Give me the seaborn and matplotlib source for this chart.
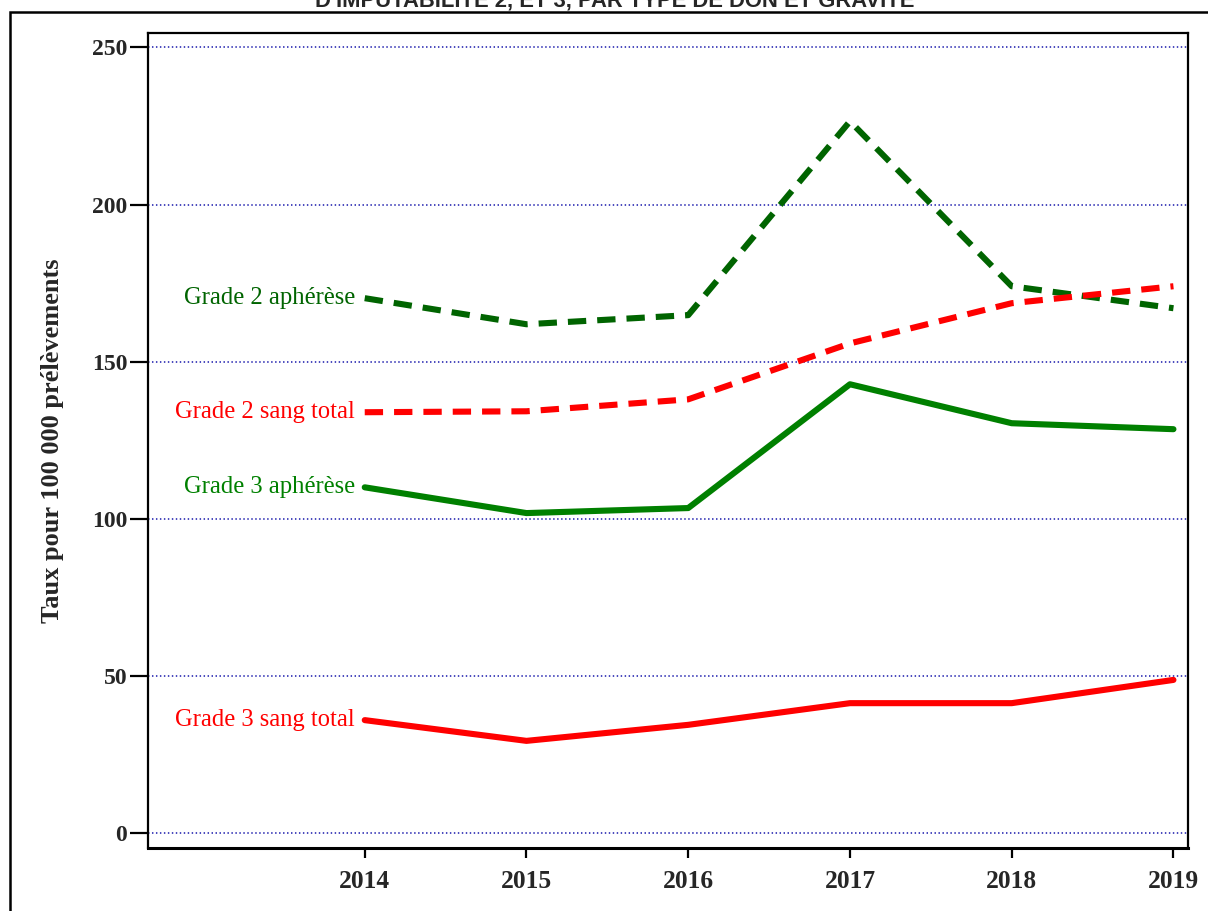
import matplotlib
matplotlib.use("Agg")
import matplotlib.pyplot as plt
from matplotlib.patches import Rectangle
import seaborn as sns
import pandas as pd

years = [2014, 2015, 2016, 2017, 2018, 2019]
grade2_apherese = [170.2, 161.9, 164.8, 226.5, 174.0, 167.0]
grade2_sang_total = [133.9, 134.2, 138.0, 155.8, 168.6, 174.0]
grade3_apherese = [110.0, 101.8, 103.4, 142.8, 130.4, 128.5]
grade3_sang_total = [35.9, 29.3, 34.4, 41.3, 41.3, 48.7]
series_labels = ["Grade 2 aphérèse", "Grade 2 sang total", "Grade 3 aphérèse", "Grade 3 sang total"]
y_ticks = [0, 50, 100, 150, 200, 250]

sns.set_style("white")
plt.rcParams["font.family"] = ["Liberation Serif", "DejaVu Serif"]

fig = plt.figure(figsize=(12.08, 9.11), dpi=100)
ax = fig.add_axes([148 / 1208, 1 - 848 / 911, (1188 - 148) / 1208, (848 - 33) / 911])

styles = [
    (grade2_apherese, "#006400", (0, (3.0, 1.8))),
    (grade2_sang_total, "#ff0000", (0, (3.0, 1.8))),
    (grade3_apherese, "#008000", "-"),
    (grade3_sang_total, "#ff0000", "-"),
]

for (vals, color, ls), label in zip(styles, series_labels):
    df = pd.DataFrame({"year": years, "rate": vals})
    sns.lineplot(data=df, x="year", y="rate", ax=ax, color=color,
                 linestyle=ls, linewidth=4.4, zorder=3)
    ax.annotate(label, xy=(years[0], vals[0]), xytext=(-7, 0),
                textcoords="offset points", ha="right", va="center",
                color=color, fontsize=17.7, annotation_clip=False)

ax.set_xlim(2012.66, 2019.09)
ax.set_ylim(-4.8, 254.6)
ax.set_xticks(years)
ax.set_xticklabels([str(y) for y in years])
ax.set_yticks(y_ticks)
ax.set_yticklabels([str(t) for t in y_ticks])
ax.set_xlabel("")
ax.set_ylabel("Taux pour 100 000 prélèvements", fontsize=19, fontweight="bold", labelpad=20)

for t in y_ticks:
    ax.axhline(t, color="#3a3ab8", linewidth=1.3, linestyle=(0, (0.8, 1.4)), zorder=1)

ax.tick_params(axis="y", direction="out", length=13, width=1.6, color="black",
               left=True, labelsize=17, pad=2)
ax.tick_params(axis="x", direction="out", length=7, width=1.6, color="black",
               bottom=True, labelsize=18.4, pad=9)
for lab in ax.get_xticklabels() + ax.get_yticklabels():
    lab.set_fontweight("bold")

for side, sp in ax.spines.items():
    sp.set_visible(True)
    sp.set_color("black")
    sp.set_linewidth(1.6)
ax.spines["bottom"].set_linewidth(2.2)

# outer frame around the figure
fig.add_artist(Rectangle((10 / 1208, -0.05), 1.1, 1 - 12 / 911 + 0.05,
                         transform=fig.transFigure, fill=False,
                         edgecolor="black", linewidth=1.8, clip_on=False))

fig.text(0.509, 1 - 7 / 911, "D'IMPUTABILITÉ 2, ET 3, PAR TYPE DE DON ET GRAVITÉ",
         ha="center", va="baseline", fontsize=15.8, fontweight="bold",
         family=["Liberation Sans", "DejaVu Sans"])

fig.savefig("out.png", dpi=100)
